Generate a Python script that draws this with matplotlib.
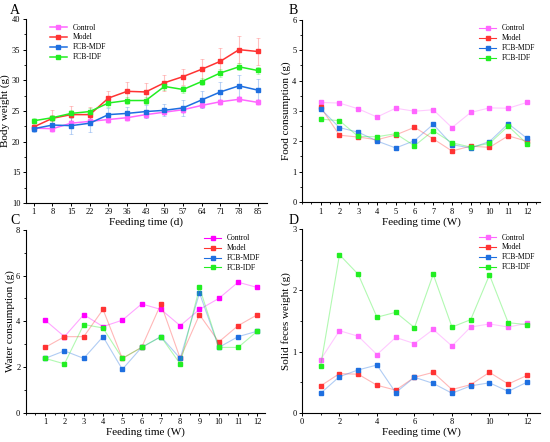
import matplotlib
matplotlib.use('Agg')
import matplotlib.pyplot as plt
from matplotlib.ticker import MultipleLocator, AutoMinorLocator

plt.rcParams['font.family'] = ['Liberation Serif', 'DejaVu Serif']

groups = ['Control', 'Model', 'FCB-MDF', 'FCB-IDF']
colors = ['#FF66FF', '#FF3333', '#1E6FE0', '#22EE22']

# A - body weight (g)
days = [1, 8, 15, 22, 29, 36, 43, 50, 57, 64, 71, 78, 85]
bw_control = [22.2, 22.1, 23.0, 23.3, 23.6, 23.9, 24.4, 24.8, 25.2, 25.9, 26.5, 26.9, 26.4]
bw_model = [22.4, 23.8, 24.4, 24.4, 27.1, 28.2, 28.1, 29.6, 30.6, 31.8, 33.1, 35.0, 34.7]
bw_mdf = [22.1, 22.7, 22.6, 23.0, 24.4, 24.6, 24.9, 25.1, 25.5, 26.8, 28.1, 29.1, 28.4]
bw_idf = [23.4, 23.9, 24.6, 24.9, 26.3, 26.7, 26.7, 29.0, 28.5, 29.8, 31.2, 32.2, 31.6]
err_control = [0.5, 0.5, 0.6, 0.5, 0.5, 0.5, 0.5, 0.5, 0.6, 0.5, 0.5, 0.5, 0.5]
err_model = [0.5, 1.4, 1.4, 1.3, 1.2, 1.5, 1.5, 1.3, 1.3, 1.7, 2.1, 2.2, 2.2]
err_mdf = [0.6, 0.8, 1.3, 1.4, 1.1, 1.1, 1.0, 1.0, 1.3, 1.4, 1.7, 1.8, 1.8]
err_idf = [0.4, 0.5, 0.6, 0.6, 0.6, 0.6, 0.6, 0.6, 0.6, 0.6, 0.6, 0.6, 0.6]

weeks = [1, 2, 3, 4, 5, 6, 7, 8, 9, 10, 11, 12]

# B - food consumption (g)
food_control = [3.28, 3.26, 3.07, 2.80, 3.09, 2.99, 3.04, 2.45, 2.95, 3.10, 3.09, 3.28]
food_model = [3.12, 2.20, 2.14, 2.05, 2.21, 2.46, 2.08, 1.68, 1.84, 1.80, 2.18, 2.00]
food_mdf = [3.07, 2.45, 2.30, 2.01, 1.78, 2.02, 2.56, 1.89, 1.78, 1.99, 2.58, 2.10]
food_idf = [2.73, 2.68, 2.16, 2.15, 2.25, 1.85, 2.35, 1.95, 1.81, 1.93, 2.50, 1.92]

# C - water consumption (g)
water_control = [4.05, 3.33, 4.29, 3.77, 4.05, 4.76, 4.52, 3.81, 4.52, 5.00, 5.71, 5.48]
water_model = [2.86, 3.33, 3.33, 4.52, 2.38, 2.86, 4.76, 2.38, 4.29, 3.10, 3.81, 4.29]
water_mdf = [2.38, 2.71, 2.38, 3.33, 1.90, 2.86, 3.33, 2.38, 5.24, 2.86, 3.33, 3.57]
water_idf = [2.38, 2.14, 3.86, 3.71, 2.38, 2.86, 3.33, 2.14, 5.48, 2.86, 2.86, 3.57]

# D - solid feces weight (g)
feces_control = [0.87, 1.34, 1.25, 0.95, 1.23, 1.13, 1.36, 1.09, 1.40, 1.45, 1.40, 1.46]
feces_model = [0.44, 0.64, 0.63, 0.45, 0.37, 0.58, 0.66, 0.38, 0.46, 0.66, 0.47, 0.61]
feces_mdf = [0.32, 0.59, 0.70, 0.78, 0.33, 0.58, 0.48, 0.32, 0.44, 0.49, 0.35, 0.50]
feces_idf = [0.77, 2.58, 2.26, 1.56, 1.64, 1.39, 2.26, 1.40, 1.52, 2.25, 1.47, 1.44]

fig = plt.figure(figsize=(5.5, 4.42), dpi=100)
axA = fig.add_axes([0.047, 0.541, 0.438, 0.416])
axB = fig.add_axes([0.549, 0.543, 0.433, 0.412])
axC = fig.add_axes([0.047, 0.066, 0.435, 0.414])
axD = fig.add_axes([0.549, 0.066, 0.433, 0.416])


def style(ax):
    for s in ['top', 'right']:
        ax.spines[s].set_visible(False)
    for s in ['left', 'bottom']:
        ax.spines[s].set_linewidth(0.8)
    ax.tick_params(which='major', direction='out', length=2.5, width=0.7, labelsize=6, pad=1.5)
    ax.tick_params(which='minor', direction='out', length=1.4, width=0.6)


# A
series_a = [(bw_control, err_control), (bw_model, err_model), (bw_mdf, err_mdf), (bw_idf, err_idf)]
for (vals, errs), name, c in zip(series_a, groups, colors):
    axA.errorbar(days, vals, yerr=errs, fmt='none', ecolor=c, elinewidth=0.8, capsize=1.5,
                 capthick=0.6, alpha=0.3)
for (vals, errs), name, c in zip(series_a, groups, colors):
    axA.plot(days, vals, color=c, marker='s', markersize=3.5, lw=1.1, label=name)
axA.set_xlim(-2, 88.4)
axA.set_ylim(10, 40)
axA.set_xticks(days)
axA.yaxis.set_major_locator(MultipleLocator(5))
axA.yaxis.set_minor_locator(AutoMinorLocator(2))
axA.set_xlabel('Feeding time (d)', fontsize=8, labelpad=1)
axA.set_ylabel('Body weight (g)', fontsize=8, labelpad=1)
axA.legend(loc='upper left', bbox_to_anchor=(0.08, 1.0), frameon=False, fontsize=5.5,
           handlelength=2.2, labelspacing=0.25, borderaxespad=0.2)
style(axA)


def faded(ax, x, data, cols):
    for vals, name, c in zip(data, groups, cols):
        ax.plot(x, vals, color=c, lw=0.8, alpha=0.35)
        ax.plot(x, vals, ls='none', marker='s', markersize=3.5, color=c)
        ax.plot([], [], color=c, lw=0.8, alpha=0.35, marker='s', markersize=3.5, label=name)
    leg = ax.legend(loc='upper right', frameon=False, fontsize=5.5, handlelength=2.2,
                    labelspacing=0.25, borderaxespad=0.2)
    for h in leg.legend_handles:
        h.set_alpha(None)
        h.set_color(h.get_color())


# B
faded(axB, weeks, [food_control, food_model, food_mdf, food_idf], colors)
axB.set_xlim(0, 12.7)
axB.set_ylim(0, 6)
axB.set_xticks(weeks)
axB.xaxis.set_minor_locator(AutoMinorLocator(2))
axB.yaxis.set_major_locator(MultipleLocator(1))
axB.yaxis.set_minor_locator(AutoMinorLocator(2))
axB.set_xlabel('Feeding time (W)', fontsize=8, labelpad=1)
axB.set_ylabel('Food consumption (g)', fontsize=8, labelpad=1)
style(axB)

# C
colors_c = ['#FF00FF', '#FF3333', '#1E6FE0', '#22EE22']
faded(axC, weeks, [water_control, water_model, water_mdf, water_idf], colors_c)
axC.set_xlim(0, 12.4)
axC.set_ylim(0, 8)
axC.set_xticks(weeks)
axC.xaxis.set_minor_locator(AutoMinorLocator(2))
axC.yaxis.set_major_locator(MultipleLocator(2))
axC.yaxis.set_minor_locator(AutoMinorLocator(2))
axC.set_xlabel('Feeding time (W)', fontsize=8, labelpad=1)
axC.set_ylabel('Water consumption (g)', fontsize=8, labelpad=1)
style(axC)

# D
faded(axD, weeks, [feces_control, feces_model, feces_mdf, feces_idf], colors)
axD.set_xlim(0, 12.7)
axD.set_ylim(0, 3)
axD.xaxis.set_major_locator(MultipleLocator(2))
axD.xaxis.set_minor_locator(AutoMinorLocator(2))
axD.yaxis.set_major_locator(MultipleLocator(1))
axD.yaxis.set_minor_locator(AutoMinorLocator(2))
axD.set_xlabel('Feeding time (W)', fontsize=8, labelpad=1)
axD.set_ylabel('Solid feces weight (g)', fontsize=8, labelpad=1)
style(axD)

for label, x, y in [('A', 0.018, 0.99), ('B', 0.525, 0.99), ('C', 0.018, 0.515), ('D', 0.525, 0.515)]:
    fig.text(x, y, label, fontsize=10, va='top', ha='left')

fig.savefig('out.png', dpi=100)
